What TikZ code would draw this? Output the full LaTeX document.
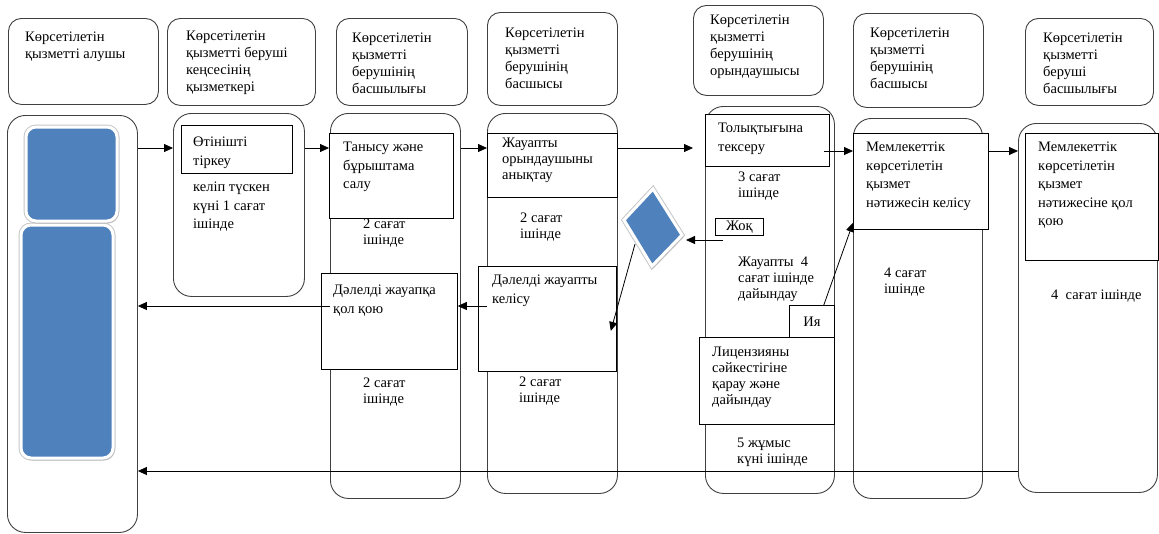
\documentclass[tikz,border=0pt]{standalone}
\usepackage{fontspec}
\setmainfont{Liberation Serif}
\usetikzlibrary{arrows.meta,shadows}
\definecolor{shapeblue}{HTML}{4F81BD}

\tikzset{
    lane/.style={draw=black!75, line width=0.9pt, rounded corners=18pt, anchor=north west, inner sep=0pt},
    head/.style={draw=black!75, line width=0.9pt, rounded corners=13pt, anchor=north west, inner sep=0pt},
    stepbox/.style={draw, line width=0.8pt, fill=white, anchor=north west, inner sep=0pt},
    htxt/.style={anchor=north west, inner sep=0pt, align=left, font=\fontsize{14.5}{17}\selectfont},
    txt/.style={anchor=north west, inner sep=0pt, align=left, font=\fontsize{14.5}{18.5}\selectfont},
    txtb/.style={anchor=north west, inner sep=0pt, align=left, font=\fontsize{14.5}{16}\selectfont},
    arr/.style={line width=0.8pt, -{Triangle[length=9pt,width=8pt]}},
    blueshape/.style={fill=shapeblue, draw=white, line width=3pt,
        preaction={draw=black!22, line width=5pt},
        drop shadow={shadow xshift=1.5pt, shadow yshift=-2.5pt, fill=black!30}}
}

\begin{document}
\begin{tikzpicture}[x=1pt,y=-1pt]
    \useasboundingbox (0,0) rectangle (1159,533);

    % headers
    \node[head, minimum width=150pt, minimum height=86pt] (h1) at (8,18) {};
    \node[head, minimum width=148pt, minimum height=87pt] (h2) at (167,18) {};
    \node[head, minimum width=131pt, minimum height=87pt] (h3) at (336,18) {};
    \node[head, minimum width=130pt, minimum height=93pt] (h4) at (487,12) {};
    \node[head, minimum width=130pt, minimum height=90pt] (h5) at (693,5) {};
    \node[head, minimum width=130pt, minimum height=94pt] (h6) at (853,13) {};
    \node[head, minimum width=128pt, minimum height=87pt] (h7) at (1025,18) {};
    \node[htxt] (h1t) at (25,32) {Көрсетілетін\\қызметті алушы};
    \node[htxt] (h2t) at (186,31) {Көрсетілетін\\қызметті беруші\\кеңсесінің\\қызметкері};
    \node[htxt] (h3t) at (352,33) {Көрсетілетін\\қызметті\\берушінің\\басшылығы};
    \node[htxt] (h4t) at (505,28) {Көрсетілетін\\қызметті\\берушінің\\басшысы};
    \node[htxt] (h5t) at (710,15) {Көрсетілетін\\қызметті\\берушінің\\орындаушысы};
    \node[htxt] (h6t) at (870,28) {Көрсетілетін\\қызметті\\берушінің\\басшысы};
    \node[htxt] (h7t) at (1043,33) {Көрсетілетін\\қызметті\\беруші\\басшылығы};

    % lanes
    \node[lane, minimum width=130pt, minimum height=417pt] (ln1) at (7,115) {};
    \node[lane, minimum width=131pt, minimum height=183pt] (ln2) at (173,113) {};
    \node[lane, minimum width=130pt, minimum height=385pt] (ln3) at (330,113) {};
    \node[lane, minimum width=130pt, minimum height=380pt] (ln4) at (487,113) {};
    \node[lane, minimum width=129pt, minimum height=387pt] (ln5) at (705,106) {};
    \node[lane, minimum width=129pt, minimum height=380pt] (ln6) at (853,118) {};
    \node[lane, minimum width=139pt, minimum height=369pt] (ln7) at (1018,123) {};

    \filldraw[blueshape, rounded corners=10pt] (21,225) rectangle (113,458);
    \filldraw[blueshape, rounded corners=10pt] (26,127) rectangle (117,221);
    \filldraw[blueshape] (653,189) coordinate (dmT) -- (682,235) coordinate (dmR)
        -- (652,266) coordinate (dmB) -- (624,220) coordinate (dmL) -- cycle;
    \coordinate (dmS) at (635,244);

    % boxes
    \node[stepbox, minimum width=111pt, minimum height=48pt] (reg) at (181,125) {};
    \node[stepbox, minimum width=124pt, minimum height=85pt] (tan) at (329,133) {};
    \node[stepbox, minimum width=130pt, minimum height=64pt] (orn) at (487,133) {};
    \node[stepbox, minimum width=136pt, minimum height=96pt] (qol) at (321,273) {};
    \node[stepbox, minimum width=138pt, minimum height=105pt] (kel) at (478,266) {};
    \node[stepbox, minimum width=124pt, minimum height=52pt] (tol) at (705,114) {};
    \node[stepbox, minimum width=48pt, minimum height=17pt] (joq) at (715,218) {};
    \node[stepbox, minimum width=45pt, minimum height=32pt] (ia) at (789,305) {};
    \node[stepbox, minimum width=135pt, minimum height=87pt] (lic) at (699,337) {};
    \node[stepbox, minimum width=135pt, minimum height=96pt] (mk1) at (853,133) {};
    \node[stepbox, minimum width=133pt, minimum height=127pt] (mk2) at (1025,133) {};

    % texts
    \node[txt] (regt) at (193,137) {Өтінішті\\тіркеу};
    \node[txt] (regs) at (193,182) {келіп түскен\\күні 1 сағат\\ішінде};
    \node[txt] (tant) at (343,142) {Танысу және\\бұрыштама\\салу};
    \node[txtb] (tans) at (363,219) {2 сағат\\ішінде};
    \node[txtb] (ornt) at (502,138) {Жауапты\\орындаушыны\\анықтау};
    \node[txtb] (orns) at (520,213) {2 сағат\\ішінде};
    \node[txt] (qolt) at (333,285) {Дәлелді жауапқа\\қол қою};
    \node[txtb] (qols) at (363,378) {2 сағат\\ішінде};
    \node[txt] (kelt) at (492,275) {Дәлелді жауапты\\келісу};
    \node[txtb] (kels) at (519,377) {2 сағат\\ішінде};
    \node[txt] (tolt) at (718,123) {Толықтығына\\тексеру};
    \node[txtb] (tols) at (738,172) {3 сағат\\ішінде};
    \node[font=\fontsize{14.5}{16}\selectfont, inner sep=0pt] (joqt) at (joq.center) {Жоқ};
    \node[txtb] (jau) at (738,257) {Жауапты~~4\\сағат ішінде\\дайындау};
    \node[font=\fontsize{14.5}{16}\selectfont, inner sep=0pt] (iat) at (ia.center) {Ия};
    \node[txtb] (lict) at (712,347) {Лицензияны\\сәйкестігіне\\қарау және\\дайындау};
    \node[txtb] (lics) at (737,438) {5 жұмыс\\күні ішінде};
    \node[txt] (mk1t) at (866,142) {Мемлекеттік\\көрсетілетін\\қызмет\\нәтижесін келісу};
    \node[txtb] (mk1s) at (884,268) {4 сағат\\ішінде};
    \node[txt] (mk2t) at (1038,142) {Мемлекеттік\\көрсетілетін\\қызмет\\нәтижесіне қол\\қою};
    \node[txtb] (mk2s) at (1051,290) {4~~сағат ішінде};

    % arrows
    \coordinate (r1) at (0,148);
    \coordinate (r2) at (0,151);
    \coordinate (r3) at (0,306);
    \coordinate (r4) at (0,471);
    \coordinate (nos) at (723,240);
    \draw[arr] (ln1.east |- r1) -- (ln2.west |- r1);
    \draw[arr] (ln2.east |- r1) -- (tan.west |- r1);
    \draw[arr] (ln3.east |- r1) -- (orn.west |- r1);
    \draw[arr, shorten >=12pt] (orn.east |- r1) -- (ln5.west |- r1);
    \draw[arr] ([xshift=-6pt]tol.east |- r2) -- (mk1.west |- r2);
    \draw[arr] (mk1.east |- r2) -- (ln7.west |- r2);
    \draw[arr] (ln4.west |- r3) -- (qol.east |- r3);
    \draw[arr] (ln3.west |- r3) -- (ln1.east |- r3);
    \draw[arr] (ln7.west |- r4) -- (ln1.east |- r4);
    \draw[arr] (nos) -- ([xshift=4pt]nos -| dmR);
    \draw[arr] (dmS) -- ([xshift=-6pt,yshift=-12pt]kel.east);
    \draw[arr] ([xshift=-11pt]ia.north east) -- ([yshift=7pt]mk1.south west);
\end{tikzpicture}
\end{document}
